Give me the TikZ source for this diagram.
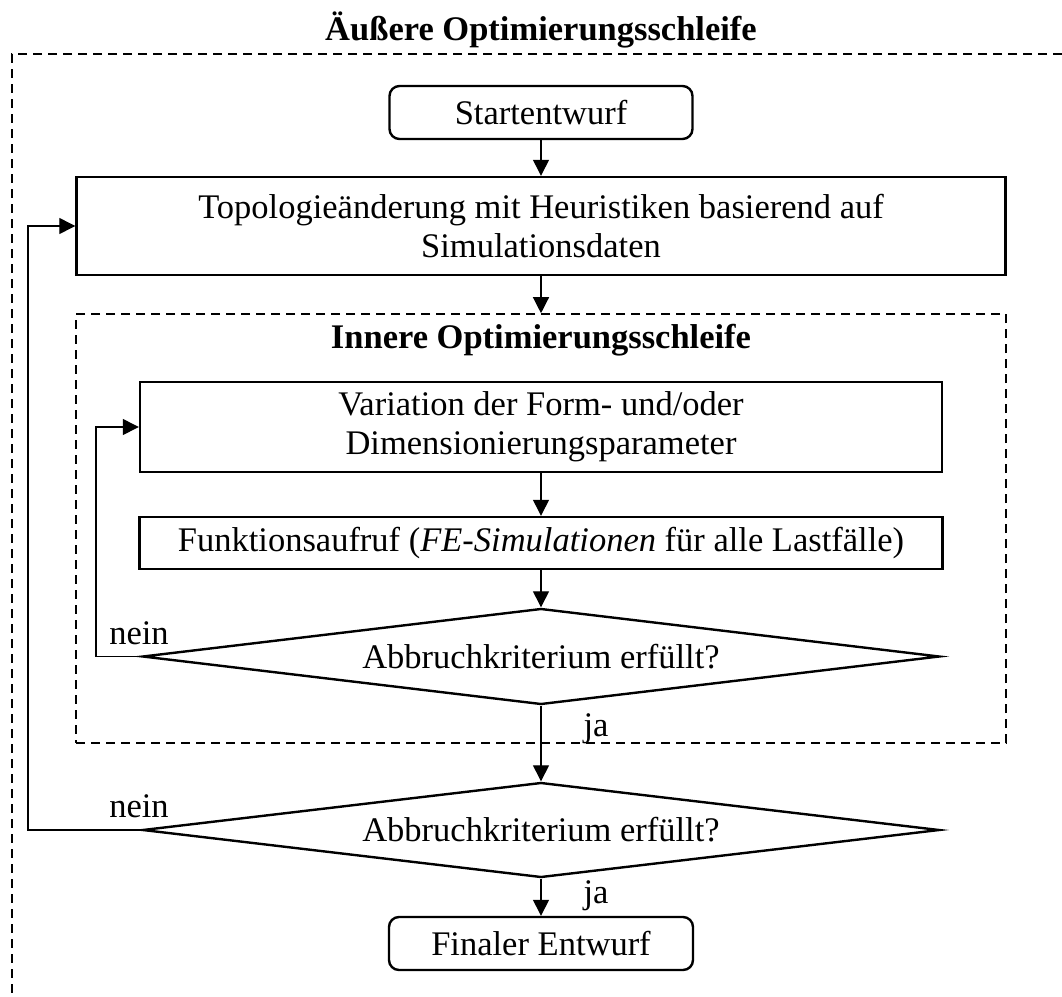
\documentclass[tikz,border=0pt]{standalone}
\usepackage{fontspec}
\setmainfont{Liberation Serif}
\usetikzlibrary{arrows.meta,shapes.geometric}
\begin{document}
\begin{tikzpicture}[x=1pt,y=-1pt,
  every node/.style={font=\fontsize{34.5}{39}\selectfont, inner sep=0pt, align=center},
  procbox/.style={draw, line width=2.4pt, rectangle},
  termbox/.style={draw, line width=2.4pt, rectangle, rounded corners=10pt},
  decision/.style={draw, line width=2.4pt, diamond, aspect=8.3},
  frame/.style={draw, line width=1.6pt, dash pattern=on 9pt off 6pt},
  conn/.style={line width=1.3pt, -{Triangle[length=16pt,width=16pt]}},
  title/.style={font=\fontsize{34.5}{39}\selectfont\bfseries},
  lbl/.style={font=\fontsize{34.5}{39}\selectfont}
]
\useasboundingbox (0,0) rectangle (1062,996);

% outer loop frame (runs off the right and bottom edges)
\draw[frame] (1062,54) -- (12,54) -- (12,996);
\node[title] (outertitle) at (541,30) {Äußere Optimierungsschleife};

% inner loop frame
\node[frame, minimum width=930pt, minimum height=429pt] (inner) at (541,528.5) {};
\node[title] (innertitle) at (541,340) {Innere Optimierungsschleife};

% process steps
\node[termbox, minimum width=303pt, minimum height=53pt] (start) at (541,112.5) {Startentwurf};
\node[procbox, minimum width=929pt, minimum height=98pt] (topo) at (541,226)
  {Topologieänderung mit Heuristiken basierend auf\\Simulationsdaten};
\node[procbox, minimum width=802pt, minimum height=90pt] (var) at (541,427)
  {Variation der Form- und/oder\\Dimensionierungsparameter};
\node[procbox, minimum width=803pt, minimum height=52pt] (fun) at (541,543)
  {Funktionsaufruf (\textit{FE-Simulationen} für alle Lastfälle)};
\node[decision, minimum width=797pt, minimum height=96pt] (d1) at (541,656.5)
  {Abbruchkriterium erfüllt?};
\node[decision, minimum width=797pt, minimum height=95pt] (d2) at (541,830)
  {Abbruchkriterium erfüllt?};
\node[termbox, minimum width=304pt, minimum height=53pt] (final) at (541,943.5) {Finaler Entwurf};

% loop-back columns
\coordinate (innerloop) at (96,0);
\coordinate (outerloop) at (28,0);

% main flow
\draw[conn] (start.south) -- (topo.north);
\draw[conn] (topo.south) -- (inner.north);
\draw[conn] (var.south) -- (fun.north);
\draw[conn] (fun.south) -- (d1.north);
\draw[conn] (d1.south) -- node[lbl, right=42pt, pos=0.3] {ja} (d2.north);
\draw[conn] (d2.south) -- node[lbl, right=42pt, pos=0.45] {ja} (final.north);

% feedback loops
\draw[conn] (d1.west) -- (d1.west -| innerloop) |- (var.west);
\node[lbl, anchor=south] (nein1) at (139,645) {nein};
\draw[conn] (d2.west) -- (d2.west -| outerloop) |- (topo.west);
\node[lbl, anchor=south] (nein2) at (139,818) {nein};
\end{tikzpicture}
\end{document}
